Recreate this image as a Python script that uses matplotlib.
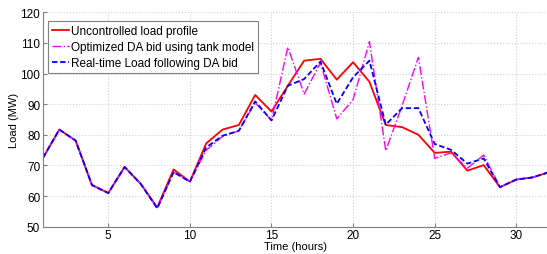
import numpy as np
import matplotlib
matplotlib.use("Agg")
import matplotlib.pyplot as plt

plt.rcParams["font.family"] = ["Liberation Sans", "DejaVu Sans"]

hours = np.arange(1, 33)

uncontrolled = [72.5, 81.7, 78.1, 63.6, 61.0, 69.5, 63.9, 56.3, 68.7, 64.7,
                77.2, 81.7, 83.2, 93.0, 87.6, 96.0, 104.2, 104.8, 98.0, 103.7,
                97.3, 83.2, 82.5, 80.0, 74.1, 74.5, 68.3, 70.1, 62.9, 65.4,
                66.1, 67.8]
optimized_da = [72.5, 81.7, 78.1, 63.6, 61.0, 69.5, 63.9, 56.0, 67.8, 64.7,
                75.0, 79.5, 81.3, 90.5, 84.7, 108.6, 93.3, 103.5, 85.2, 91.5,
                110.4, 74.8, 89.5, 105.3, 72.3, 74.1, 69.1, 73.4, 62.9, 65.4,
                66.1, 67.8]
realtime = [72.5, 81.7, 78.1, 63.6, 61.0, 69.5, 63.9, 56.0, 67.8, 64.7,
            75.9, 79.7, 81.3, 90.9, 84.7, 96.0, 98.2, 103.9, 90.1, 98.8,
            104.2, 83.3, 88.7, 88.7, 77.0, 75.1, 70.6, 72.3, 62.9, 65.4,
            66.1, 67.8]

fig = plt.figure(figsize=(5.47, 2.55), dpi=100)
ax = fig.add_axes([0.0786, 0.107, 0.925, 0.841])

ax.plot(hours, uncontrolled, color="red", linewidth=1.3, label="Uncontrolled load profile")
ax.plot(hours, optimized_da, color="magenta", linewidth=1.0, linestyle="-.",
        label="Optimized DA bid using tank model")
ax.plot(hours, realtime, color="blue", linewidth=1.3, linestyle="--",
        dashes=(3, 1.5), label="Real-time Load following DA bid")

ax.set_xlim(1, 32)
ax.set_ylim(50, 120)
ax.set_xticks([5, 10, 15, 20, 25, 30])
ax.set_yticks(np.arange(50, 121, 10))
ax.grid(True, color="#d0d0d0", linestyle=":", linewidth=0.8)
for side in ["top", "right"]:
    ax.spines[side].set_visible(False)
for side in ["left", "bottom"]:
    ax.spines[side].set_color("#808080")
ax.tick_params(direction="in", length=3, colors="#808080", labelcolor="black",
               labelsize=8.5, pad=2)
ax.set_xlabel("Time (hours)", fontsize=8, labelpad=0)
ax.set_ylabel("Load (MW)", fontsize=8, labelpad=1)

leg = ax.legend(loc="upper left", fontsize=8.5, handlelength=1.4, handletextpad=0.2,
                borderpad=0.35, labelspacing=0.35, fancybox=False, framealpha=1,
                borderaxespad=0, bbox_to_anchor=(0.01, 0.96))
leg.get_frame().set_edgecolor("#808080")
leg.get_frame().set_linewidth(0.8)

fig.savefig("out.png", dpi=100)
